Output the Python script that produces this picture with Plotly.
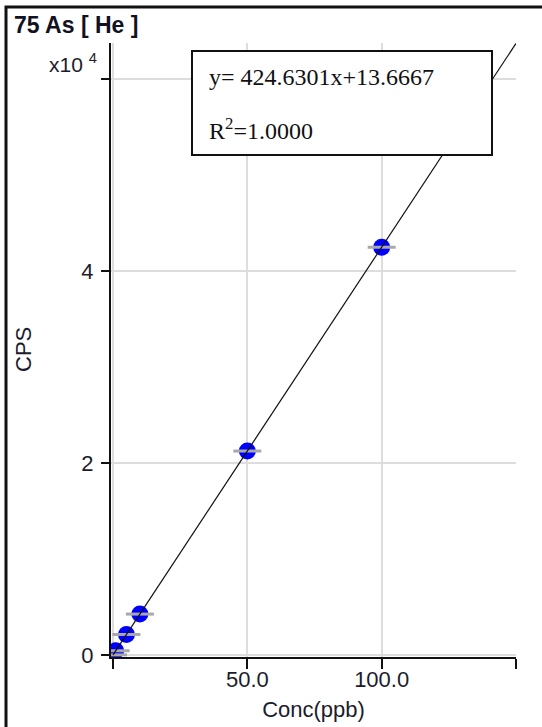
import plotly.graph_objects as go

# Calibration standards for 75 As [He]
conc_ppb = [0, 1, 5, 10, 50, 100]
cps = [14, 438, 2137, 4260, 21245, 42476]

slope = 424.6301
intercept = 13.6667
r_squared = 1.0000

fit_x = [0, 150]
fit_y = [slope * x + intercept for x in fit_x]

# labelled ticks
x_tickvals = [50, 100]
x_ticktext = ["50.0", "100.0"]
y_tickvals = [0, 20000, 40000]
y_ticktext = ["0", "2", "4"]
# unlabelled ticks (axis ends) drawn as minor ticks
x_minor_step = 150
y_minor_step = 60000

W, H = 542, 727
L, R, T, B = 111, 26, 43, 70
PW, PH = W - L - R, H - T - B


def px(x):
    return (x - L) / PW


def py(y):
    return (H - B - y) / PH


fig = go.Figure()

fig.add_trace(go.Scatter(
    x=conc_ppb, y=cps, mode="markers",
    marker=dict(symbol="circle", size=17, color="#0000ff", line=dict(width=0)),
    hoverinfo="skip", showlegend=False,
))
fig.add_trace(go.Scatter(
    x=conc_ppb, y=cps, mode="markers",
    marker=dict(symbol="line-ew", size=20, line=dict(width=3, color="#a8a8a8")),
    hoverinfo="skip", showlegend=False,
))
fig.add_trace(go.Scatter(
    x=fit_x, y=fit_y, mode="lines",
    line=dict(color="#111111", width=1.2),
    hoverinfo="skip", showlegend=False,
))

tick_font = dict(family="Liberation Sans", size=22, color="#1c1c2c")
grid = "#dddddd"

fig.update_xaxes(
    range=[-0.75, 150], tickvals=x_tickvals, ticktext=x_ticktext,
    showline=True, linecolor="#111111", linewidth=2,
    ticks="outside", ticklen=10, tickwidth=2, tickcolor="#111111",
    showgrid=True, gridcolor=grid, gridwidth=2,
    minor=dict(tick0=0, dtick=x_minor_step, ticks="outside", ticklen=10,
               tickwidth=2, tickcolor="#111111", showgrid=True,
               gridcolor=grid, gridwidth=2),
    zeroline=False, tickfont=tick_font, automargin=False, ticklabelstandoff=-8,
    title=dict(text="Conc(ppb)", font=tick_font, standoff=10),
)
fig.update_yaxes(
    range=[-210, 63750], tickvals=y_tickvals, ticktext=y_ticktext,
    showline=True, linecolor="#111111", linewidth=2,
    ticks="outside", ticklen=8, tickwidth=2, tickcolor="#111111",
    showgrid=True, gridcolor=grid, gridwidth=2,
    minor=dict(tick0=0, dtick=y_minor_step, ticks="outside", ticklen=8,
               tickwidth=2, tickcolor="#111111", showgrid=True,
               gridcolor=grid, gridwidth=2),
    zeroline=False, tickfont=tick_font, ticklabelstandoff=3, automargin=False,
)

shapes = [
    # outer frame
    dict(type="rect", xref="paper", yref="paper",
         x0=px(6), x1=px(560), y0=py(760), y1=py(7),
         line=dict(color="#111111", width=3), fillcolor="rgba(0,0,0,0)", layer="above"),
    # equation box
    dict(type="rect", xref="paper", yref="paper",
         x0=px(192), x1=px(492), y0=py(155), y1=py(51),
         line=dict(color="#111111", width=2), fillcolor="white", layer="above"),
]

serif = dict(family="Liberation Serif", size=24, color="#111111")
annotations = [
    dict(text="<b>75 As [ He ]</b>", xref="paper", yref="paper",
         x=px(12), y=py(25), xanchor="left", yanchor="middle", showarrow=False,
         font=dict(family="Liberation Sans", size=23, color="#111122")),
    dict(text="x10 <sup>4</sup>", xref="paper", yref="paper",
         x=px(99), y=py(63), xanchor="right", yanchor="middle", showarrow=False,
         font=dict(family="Liberation Sans", size=21, color="#1c1c2c")),
    dict(text="CPS", xref="paper", yref="paper", textangle=-90,
         x=px(23), y=py(350), xanchor="center", yanchor="middle", showarrow=False,
         font=tick_font),
    dict(text=f"y= {slope:.4f}x+{intercept:.4f}", xref="paper", yref="paper",
         x=px(207), y=py(77), xanchor="left", yanchor="middle", showarrow=False,
         font=serif),
    dict(text=f"R<sup>2</sup>={r_squared:.4f}",
         xref="paper", yref="paper",
         x=px(207), y=py(129), xanchor="left", yanchor="middle", showarrow=False,
         font=serif),
]

fig.update_layout(
    width=W, height=H,
    margin=dict(l=L, r=R, t=T, b=B),
    paper_bgcolor="white", plot_bgcolor="white",
    shapes=shapes, annotations=annotations,
    showlegend=False,
)

fig.write_html("out.html")
